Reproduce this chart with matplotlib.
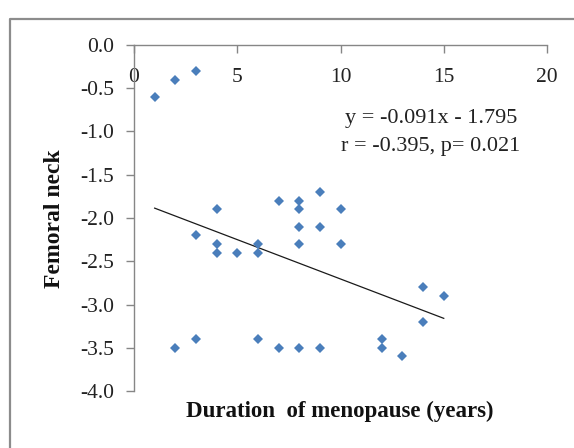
import matplotlib.pyplot as plt
from matplotlib.lines import Line2D

# duration of menopause (years) vs femoral neck T-score
years = [1, 2, 3, 4, 3, 4, 4, 5, 6, 6, 7, 8, 8, 8, 8, 9, 9, 10, 10, 14, 15, 14,
         2, 3, 6, 7, 8, 9, 12, 12, 13]
neck = [-0.6, -0.4, -0.3, -1.9, -2.2, -2.3, -2.4, -2.4, -2.3, -2.4, -1.8, -1.8, -1.9, -2.1, -2.3,
        -1.7, -2.1, -1.9, -2.3, -2.8, -2.9, -3.2,
        -3.5, -3.4, -3.4, -3.5, -3.5, -3.5, -3.4, -3.5, -3.6]
slope, intercept = -0.091, -1.795
fit_x = [min(years), max(years)]
fit_y = [slope * v + intercept for v in fit_x]

plt.rcParams['font.family'] = ['Liberation Serif', 'DejaVu Serif']

W, H = 574, 448
fig = plt.figure(figsize=(W / 100, H / 100), dpi=100)
ax = fig.add_axes([134 / W, 1 - 391 / H, (547 - 134) / W, (391 - 45) / H])

ax.plot(years, neck, linestyle='none', marker='D', ms=5.4, mew=0, color='#4A7EBB', zorder=3)
ax.plot(fit_x, fit_y, color='#1a1a1a', lw=0.9)

ax.set_xlim(0, 20)
ax.set_ylim(-4.0, 0.0)
ax.set_xticks([0, 5, 10, 15, 20])
ax.set_yticks([-4.0, -3.5, -3.0, -2.5, -2.0, -1.5, -1.0, -0.5, 0.0])
ax.set_yticklabels(['%.1f' % v for v in ax.get_yticks()])

for s in ['top', 'right']:
    ax.spines[s].set_visible(False)
ax.spines['bottom'].set_position(('data', 0))
for s in ['bottom', 'left']:
    ax.spines[s].set_color('#868686')
    ax.spines[s].set_linewidth(1.0)
ax.tick_params(axis='both', direction='out', length=5.5, width=1.0, color='#868686',
               labelsize=15.5, labelcolor='#222222')
ax.tick_params(axis='x', pad=11)
ax.tick_params(axis='y', pad=9)

fig.text(431 / W, 1 - 119 / H, 'y = -0.091x - 1.795', ha='center', va='center', fontsize=16, color='#222222')
fig.text(431 / W, 1 - 146 / H, 'r = -0.395, p= 0.021', ha='center', va='center', fontsize=16, color='#222222')
fig.text(340 / W, 1 - 411 / H, 'Duration  of menopause (years)', ha='center', va='center',
         fontsize=16.5, fontweight='bold', color='#111111')
fig.text(54 / W, 1 - 219 / H, 'Femoral neck', ha='center', va='center', rotation=90,
         fontsize=17, fontweight='bold', color='#111111')

# outer chart border (runs off the right and bottom edges)
bx, by = 10 / W, 1 - 19 / H
fig.add_artist(Line2D([bx, bx, 1.01], [-0.01, by, by], color='#8c8c8c', lw=1.6))

fig.savefig('out.png', dpi=100)
